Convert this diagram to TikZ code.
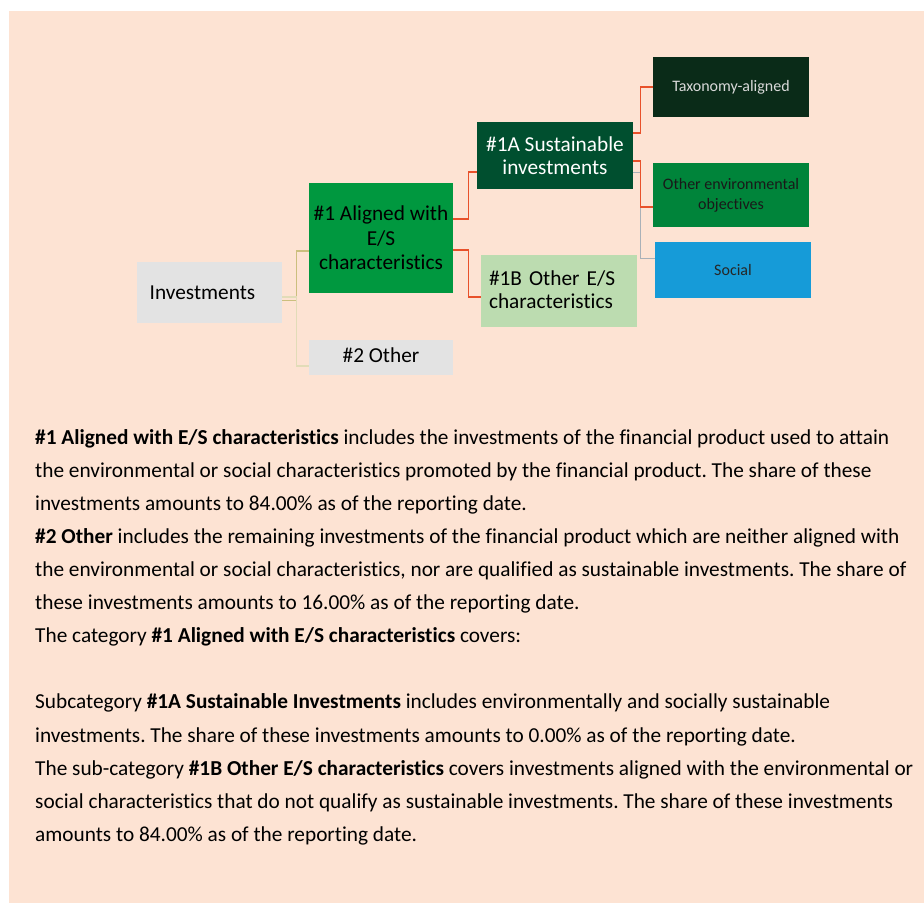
\documentclass[tikz,border=0pt]{standalone}
\usepackage{fontspec}
\setmainfont{Carlito}[Ligatures=NoCommon]
\usepackage{xcolor}
\usetikzlibrary{positioning, calc}

\definecolor{peach}{HTML}{FDE3D3}
\definecolor{boxgray}{HTML}{E3E3E3}
\definecolor{esgreen}{HTML}{00983F}
\definecolor{susgreen}{HTML}{004F2F}
\definecolor{othgreen}{HTML}{BCDCB0}
\definecolor{taxgreen}{HTML}{0A2B18}
\definecolor{envgreen}{HTML}{00843A}
\definecolor{socblue}{HTML}{169BD8}
\definecolor{linkred}{HTML}{E8512A}
\definecolor{linktan}{HTML}{CBBF7E}
\definecolor{linkgray}{HTML}{A9B1B8}

\frenchspacing
\begin{document}
\begin{tikzpicture}[
  x=1pt, y=-1pt,
  box/.style={rectangle,inner sep=0pt,align=center,font=\fontsize{21.3}{24.5}\selectfont},
  small/.style={box,font=\fontsize{16}{20}\selectfont},
  link/.style={linkred,line width=1.1pt}
]
\useasboundingbox (0,0) rectangle (924,905);
\fill[peach] (9,11) rectangle (924,903);

\node (inv) [box, fill=boxgray, minimum width=145pt, minimum height=61pt] at (209.5,292.5) {\hspace*{-14pt}Investments};
\node (al)  [box, fill=esgreen, minimum width=144pt, minimum height=110pt] at (381,238) {\#1 Aligned with\\E/S\\characteristics};
\node (oth) [box, fill=boxgray, minimum width=144pt, minimum height=35pt] at (381,357.5) {\raisebox{4pt}{\#2 Other}};
\node (sus) [box, fill=susgreen, text=white, minimum width=156pt, minimum height=67pt, font=\fontsize{21.3}{23}\selectfont] at (555,155.5) {\#1A Sustainable\\investments};
\node (ose) [box, fill=othgreen, minimum width=156pt, minimum height=72pt, text width=140pt, inner xsep=8pt, align=left, font=\fontsize{21.3}{23.5}\selectfont] at (559,291) {\raisebox{3pt}{\#1B Other E/S}\\\raisebox{3pt}{characteristics}};
\node (tax) [small, fill=taxgreen, text=black!15, minimum width=156pt, minimum height=60pt] at (731,87) {Taxonomy-aligned};
\node (env) [small, fill=envgreen, text=black!90, minimum width=156pt, minimum height=64pt] at (731,195) {\raisebox{3pt}{Other environmental}\\\raisebox{3pt}{objectives}};
\node (soc) [small, fill=socblue, text=black!85, minimum width=156pt, minimum height=56pt] at (733,270) {Social};

% investments branch
\draw[linktan, line width=1.1pt] ([yshift=-4.5pt]inv.east) -- ++(14,0) |- ([yshift=-13pt]al.west);
\draw[linktan!55, line width=1.1pt] ([yshift=-4.5pt]inv.east) -- ++(14,0) |- ([yshift=-8.5pt]oth.west);
\draw[linktan, line width=0.6pt] ([yshift=-7.5pt]inv.east) -- ++(14,0);

% aligned branch
\draw[link] ([yshift=19pt]al.east) -- ++(15,0) |- ([yshift=-16.5pt]sus.west);
\draw[link] ([yshift=-12pt]al.east) -- ++(15,0) |- ([yshift=-6pt]ose.west);

% sustainable branch
\draw[link] ([yshift=22.5pt]sus.east) -- ++(7,0) |- (tax.west);
\draw[linkgray, line width=1pt] ([yshift=-16.5pt]sus.east) -- ++(7,0) |- ([yshift=12pt]soc.west);
\draw[link] ([yshift=-5.5pt]sus.east) -- ++(7,0) |- ([yshift=-12pt]env.west);

\node (txt) [anchor=north west, inner sep=0pt, align=left, font=\fontsize{21.3}{33.1}\selectfont] at (35,429) {%
\textbf{\#1 Aligned with E/S characteristics} includes the investments of the financial product used to attain\\
the environmental or social characteristics promoted by the financial product. The share of these\\
investments amounts to 84.00\% as of the reporting date.\\
\textbf{\#2 Other} includes the remaining investments of the financial product which are neither aligned with\\
the environmental or social characteristics, nor are qualified as sustainable investments. The share of\\
these investments amounts to 16.00\% as of the reporting date.\\
The category \textbf{\#1 Aligned with E/S characteristics} covers:\\
\mbox{}\\
Subcategory \textbf{\#1A Sustainable Investments} includes environmentally and socially sustainable\\
investments. The share of these investments amounts to 0.00\% as of the reporting date.\\
The sub-category \textbf{\#1B Other E/S characteristics} covers investments aligned with the environmental or\\
social characteristics that do not qualify as sustainable investments. The share of these investments\\
amounts to 84.00\% as of the reporting date.};
\end{tikzpicture}
\end{document}
